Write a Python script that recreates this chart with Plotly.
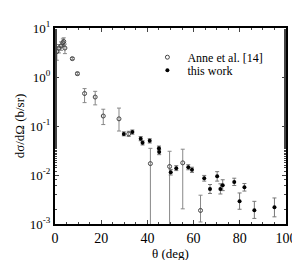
import plotly.graph_objects as go

# Anne et al. [14] (open circles)
anne_x = [0.8, 1.7, 2.6, 3.4, 3.8, 4.3, 7.5, 9.7, 12.8, 17.4, 20.9, 27.7, 31.9, 41.3, 49.6, 55.3, 63.0]
anne_y = [3.3, 3.9, 4.3, 5.0, 5.3, 3.9, 2.37, 1.17, 0.46, 0.39, 0.16, 0.14, 0.069, 0.0171, 0.0149, 0.0177, 0.00189]
anne_hi = [4.0, 4.6, 5.2, 6.0, 6.3, 4.7, 2.5, 1.25, 0.58, 0.51, 0.22, 0.232, 0.078, 0.035, 0.0305, 0.0336, 0.00387]
anne_lo = [2.2, 3.1, 3.5, 4.2, 4.4, 3.0, 2.25, 1.10, 0.30, 0.27, 0.107, 0.079, 0.061, 0.0008, 0.0008, 0.00204, 0.0011]

# this work (filled circles)
tw_x = [29.8, 33.5, 37.1, 37.9, 41.0, 45.0, 45.1, 50.1, 52.5, 57.7, 59.3, 64.6, 67.1, 70.2, 71.6, 72.6, 77.6, 79.9, 82.0, 86.3, 95.0]
tw_y = [0.069, 0.075, 0.055, 0.0455, 0.050, 0.035, 0.0295, 0.0114, 0.0138, 0.0144, 0.0128, 0.0086, 0.0052, 0.0094, 0.0052, 0.0062, 0.0072, 0.0029, 0.0056, 0.0019, 0.0022]
tw_hi = [0.076, 0.083, 0.061, 0.050, 0.055, 0.039, 0.033, 0.0130, 0.0155, 0.0162, 0.0144, 0.0098, 0.0064, 0.0117, 0.0066, 0.0080, 0.0086, 0.0043, 0.0067, 0.0029, 0.0034]
tw_lo = [0.063, 0.068, 0.050, 0.041, 0.045, 0.031, 0.026, 0.0100, 0.0123, 0.0128, 0.0113, 0.0075, 0.0042, 0.0075, 0.0041, 0.0048, 0.0061, 0.0020, 0.0047, 0.0013, 0.0014]

y_tickvals = [1e-3, 1e-2, 1e-1, 1, 10]
y_ticktext = ["10<sup>-3</sup>", "10<sup>-2</sup>", "10<sup>-1</sup>", "10<sup>0</sup>", "10<sup>1</sup>"]
x_tickvals = [0, 20, 40, 60, 80, 100]

FONT = "Liberation Serif"

fig = go.Figure()
fig.add_trace(go.Scatter(
    x=anne_x, y=anne_y, mode="markers", name="Anne et al. [14]", legend="legend",
    marker=dict(symbol="circle-open", size=4, color="#444", line=dict(width=1)),
    error_y=dict(type="data", symmetric=False,
                 array=[h - v for h, v in zip(anne_hi, anne_y)],
                 arrayminus=[v - l for v, l in zip(anne_y, anne_lo)],
                 color="#888", thickness=1, width=2),
))
fig.add_trace(go.Scatter(
    x=tw_x, y=tw_y, mode="markers", name="this work", legend="legend2",
    marker=dict(symbol="circle", size=4, color="black"),
    error_y=dict(type="data", symmetric=False,
                 array=[h - v for h, v in zip(tw_hi, tw_y)],
                 arrayminus=[v - l for v, l in zip(tw_y, tw_lo)],
                 color="#777", thickness=1, width=2),
))

leg_common = dict(xanchor="left", yanchor="top", bgcolor="rgba(0,0,0,0)",
                  font=dict(family=FONT, size=12), itemwidth=30)

fig.update_layout(
    width=300, height=260,
    margin=dict(l=45, r=20, t=11, b=36),
    paper_bgcolor="white", plot_bgcolor="white",
    font=dict(family=FONT, size=13, color="black"),
    showlegend=True,
    legend=dict(x=0.40, y=0.925, **leg_common),
    legend2=dict(x=0.40, y=0.858, **leg_common),
    xaxis=dict(range=[0, 100], tickvals=x_tickvals, ticks="inside", ticklen=4,
               showline=True, linecolor="black", linewidth=2, mirror="ticks",
               showgrid=False, zeroline=False, tickfont=dict(size=14),
               minor=dict(ticks="inside", ticklen=2, dtick=5, showgrid=False),
               title=dict(text="θ (deg)", font=dict(family=FONT, size=13), standoff=2)),
    yaxis=dict(type="log", range=[-3, 1], tickvals=y_tickvals, ticktext=y_ticktext,
               ticks="inside", ticklen=4,
               showline=True, linecolor="black", linewidth=2, mirror="ticks",
               showgrid=False, zeroline=False,
               minor=dict(ticks="inside", ticklen=2, showgrid=False),
               title=dict(text="dσ/dΩ (b/sr)", font=dict(family=FONT, size=13), standoff=2)),
)

fig.write_html("out.html")
